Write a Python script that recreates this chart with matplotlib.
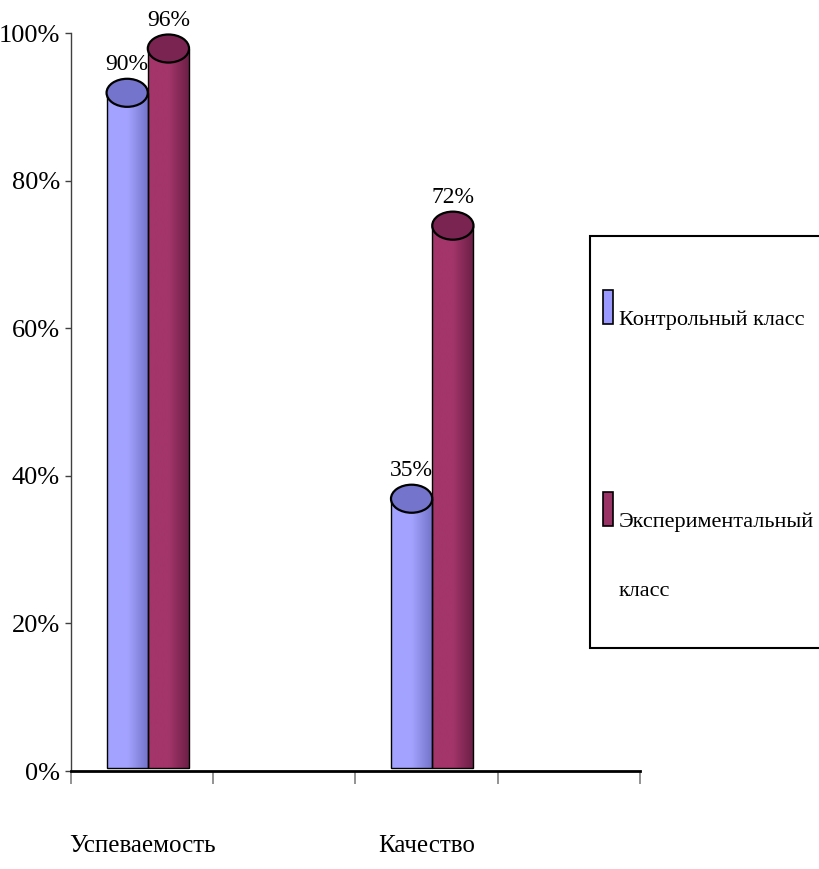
import matplotlib

matplotlib.use("Agg")
import matplotlib.pyplot as plt
import numpy as np
from matplotlib.colors import LinearSegmentedColormap
from matplotlib.patches import Ellipse, Rectangle

categories = ["Успеваемость", "Качество"]
series_names = ["Контрольный класс", "Экспериментальный\nкласс"]
control = [0.90, 0.35]
experimental = [0.96, 0.72]
value_labels = [["90%", "35%"], ["96%", "72%"]]
yticks = [0.0, 0.2, 0.4, 0.6, 0.8, 1.0]
ytick_labels = ["0%", "20%", "40%", "60%", "80%", "100%"]

FONT = ["Liberation Serif", "DejaVu Serif"]
plt.rcParams["font.family"] = FONT

# (light side, dark side, top face, legend swatch)
styles = [
    ("#A3A3FF", "#7272C8", "#7474CC", "#9999FF"),
    ("#A3356A", "#6A1F45", "#7A2452", "#993366"),
]

fig = plt.figure(figsize=(8.19, 8.69), dpi=100)
ax = fig.add_axes([0.0867, 0.1127, 0.6946, 0.8493])

width = 0.29
shift = 0.04
slots = np.arange(len(categories)) * 2 + 0.5
cap_h = 0.038

for j, vals in enumerate([control, experimental]):
    light, dark, top, _ = styles[j]
    cmap = LinearSegmentedColormap.from_list(f"cyl{j}", [light, light, dark])
    grad = np.linspace(0, 1, 64).reshape(1, -1)
    for i, v in enumerate(vals):
        x0 = slots[i] + shift + (j - 1) * width
        xc = x0 + width / 2
        h = v + cap_h / 2
        ax.imshow(grad, cmap=cmap, aspect="auto", extent=[x0, x0 + width, 0.004, h],
                  zorder=2, interpolation="bilinear")
        ax.add_patch(Rectangle((x0, 0.004), width, h - 0.004, fill=False,
                               edgecolor="black", lw=1.0, zorder=3))
        ax.add_patch(Ellipse((xc, h), width, cap_h, facecolor=top,
                             edgecolor="black", lw=1.6, zorder=4))
        ax.text(xc, v + 0.057, value_labels[j][i], ha="center", va="center",
                fontsize=17, zorder=5)

ax.set_xlim(0, 4)
ax.set_ylim(0, 1)

ax.set_xticks(np.arange(0, 5))
ax.set_xticklabels([])
ax.tick_params(axis="x", which="major", length=9, color="#808080", width=1.2)
ax.set_xticks(slots, minor=True)
ax.set_xticklabels(categories, minor=True, fontsize=18)
ax.tick_params(axis="x", which="minor", length=0, pad=46)

ax.set_yticks(yticks)
ax.set_yticklabels(ytick_labels, fontsize=19)
ax.tick_params(axis="y", length=4, color="#404040", width=1.0, pad=4)

for s in ["top", "right"]:
    ax.spines[s].set_visible(False)
ax.spines["bottom"].set_linewidth(2.0)
ax.spines["bottom"].set_zorder(6)
ax.spines["left"].set_color("#404040")
ax.spines["left"].set_linewidth(1.0)

# legend box
fig.patches.append(Rectangle((590 / 819, 1 - 648 / 869), 240 / 819, 412 / 869,
                             transform=fig.transFigure, facecolor="white",
                             edgecolor="black", lw=1.5))
legend_y = [1 - 290 / 869, 1 - 492 / 869]
for j, name in enumerate(series_names):
    fig.patches.append(Rectangle((603 / 819, legend_y[j] - 34 / 869), 10 / 819, 34 / 869,
                                 transform=fig.transFigure, facecolor=styles[j][3],
                                 edgecolor="black", lw=1.2))
    fig.text(619 / 819, legend_y[j] - 20 / 869, name, ha="left", va="top",
             fontsize=16, linespacing=4.6)

fig.savefig("out.png", dpi=100)
